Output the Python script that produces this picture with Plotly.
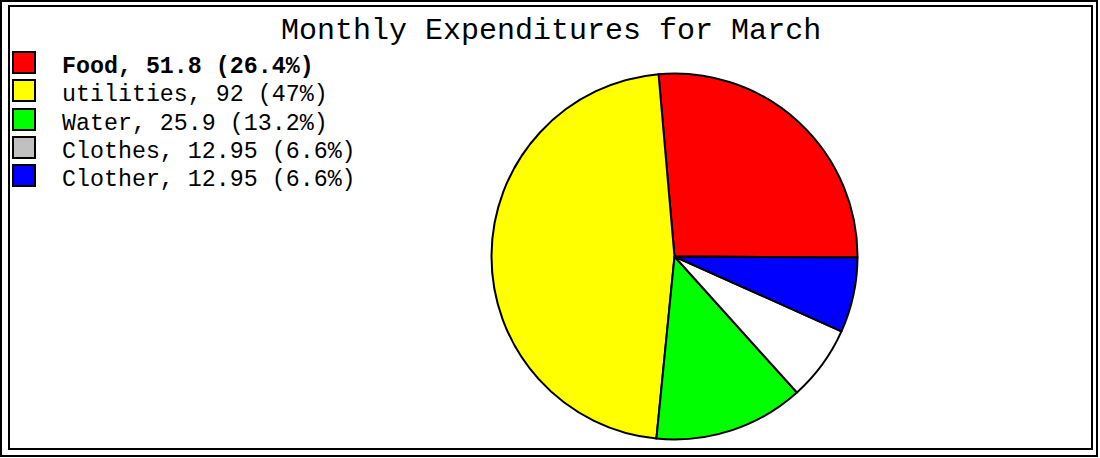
import plotly.graph_objects as go

W, H = 1100, 458

categories = ["Food", "utilities", "Water", "Clothes", "Clother"]
values = [51.8, 92, 25.9, 12.95, 12.95]
value_labels = ["51.8", "92", "25.9", "12.95", "12.95"]
percent_labels = ["26.4%", "47%", "13.2%", "6.6%", "6.6%"]

pie_colors = ["#FF0000", "#FFFF00", "#00FF00", "#FFFFFF", "#0000FF"]
legend_colors = ["#FF0000", "#FFFF00", "#00FF00", "#C0C0C0", "#0000FF"]

FONT = "Liberation Mono"

def px(x):
    return x / W

def py(y):
    return 1 - y / H

cx, cy, r = 674.5, 256.5, 183

fig = go.Figure()
fig.add_trace(go.Pie(
    labels=categories,
    values=values,
    sort=False,
    direction="counterclockwise",
    rotation=-5,
    marker=dict(colors=pie_colors, line=dict(color="black", width=2)),
    textinfo="none",
    hoverinfo="label+value+percent",
    showlegend=False,
    domain=dict(x=[px(cx - r), px(cx + r)], y=[py(cy + r), py(cy - r)]),
))

shapes = [
    dict(type="rect", xref="paper", yref="paper",
         x0=px(1), x1=px(1097), y0=py(456), y1=py(1),
         line=dict(color="black", width=2), fillcolor="rgba(0,0,0,0)"),
    dict(type="rect", xref="paper", yref="paper",
         x0=px(9), x1=px(1092), y0=py(449), y1=py(6),
         line=dict(color="black", width=2), fillcolor="rgba(0,0,0,0)"),
]
annotations = []
row_y = [63, 91, 120, 148, 176]
for i, cat in enumerate(categories):
    yc = row_y[i]
    shapes.append(dict(type="rect", xref="paper", yref="paper",
                       x0=px(13), x1=px(35), y0=py(yc + 10), y1=py(yc - 11),
                       line=dict(color="black", width=2),
                       fillcolor=legend_colors[i]))
    txt = f"{cat}, {value_labels[i]} ({percent_labels[i]})"
    if i == 0:
        txt = f"<b>{txt}</b>"
    annotations.append(dict(xref="paper", yref="paper", x=px(60), y=py(yc + 4),
                            xanchor="left", yanchor="middle", showarrow=False,
                            text=txt, font=dict(family=FONT, size=23.3, color="black")))

fig.update_layout(
    width=W, height=H,
    margin=dict(l=0, r=0, t=0, b=0),
    paper_bgcolor="white",
    plot_bgcolor="white",
    title=dict(text="Monthly Expenditures for March", x=0.501, y=1 - 28 / H,
               xanchor="center", yanchor="middle",
               font=dict(family=FONT, size=30, color="black")),
    shapes=shapes,
    annotations=annotations,
)

fig.write_html("out.html",
               config={"displayModeBar": False},
               post_script="document.body.style.margin='0';document.body.style.overflow='hidden';")
